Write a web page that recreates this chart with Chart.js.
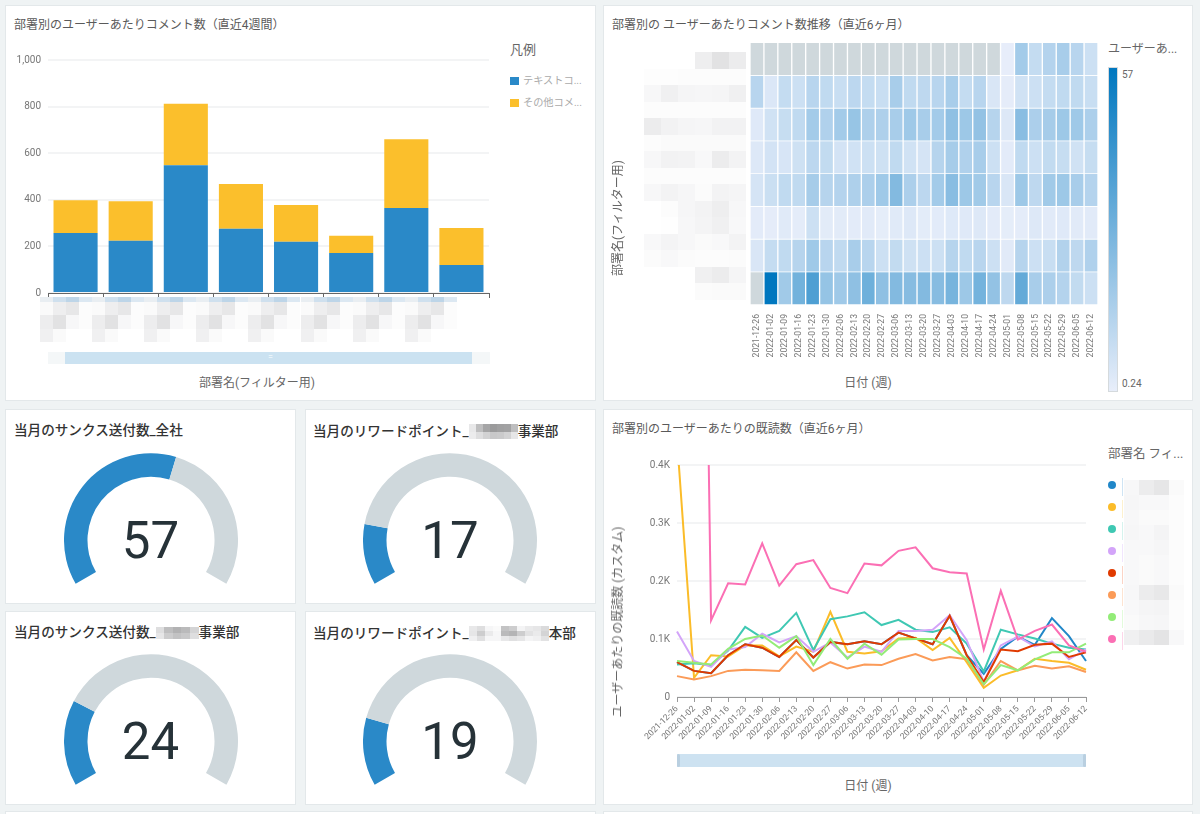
<!DOCTYPE html>
<html lang="ja">
<head>
<meta charset="utf-8">
<title>dashboard</title>
<script src="https://cdn.jsdelivr.net/npm/chart.js@4"></script>
<style>
  html, body { margin: 0; padding: 0; background: #eff3f4; }
  body { width: 1200px; height: 814px; position: relative; overflow: hidden;
         font-family: Roboto, "Noto Sans CJK JP", sans-serif; color: #666; }
  .card { position: absolute; background: #fff; border: 1px solid #e3e8ea; box-sizing: border-box; }
  canvas { position: absolute; }
  .txt { position: absolute; white-space: nowrap; line-height: 1; }
  .title { font-size: 12px; color: #5a5a5a; }
  .gtitle { font-size: 13.6px; font-weight: 500; color: #333; display: flex; align-items: center; }
  .mosaic { display: inline-grid; }
  .num { font-family: Roboto, sans-serif; font-size: 51px; color: #263238; transform: translate(-50%, -50%); }
  .axis { font-size: 12px; color: #666; }
  .rot { transform: translate(-50%, -50%) rotate(-90deg); }
  .mid { transform: translate(-50%, -50%); }
  .box { position: absolute; }
</style>
</head>
<body>
<script>
// bar chart (comment count per department, last 4 weeks)
const barLabels = ['部署A', '部署B', '部署C', '部署D', '部署E', '部署F', '部署G', '部署H'];
const textComments = [258, 224, 548, 276, 220, 172, 365, 120];
const otherComments = [140, 170, 264, 192, 158, 74, 295, 159];

// weekly dates shared by heatmap and line chart
const weeks = ['2021-12-26', '2022-01-02', '2022-01-09', '2022-01-16', '2022-01-23', '2022-01-30', '2022-02-06',
  '2022-02-13', '2022-02-20', '2022-02-27', '2022-03-06', '2022-03-13', '2022-03-20', '2022-03-27', '2022-04-03',
  '2022-04-10', '2022-04-17', '2022-04-24', '2022-05-01', '2022-05-08', '2022-05-15', '2022-05-22', '2022-05-29',
  '2022-06-05', '2022-06-12'];

// heatmap rows, top to bottom (null = no data, grey cell)
const heat1 = [null, null, null, null, null, null, null, null, null, null, null, null, null, null, null, null, null, null, 0.5, 17, 9, 13, 16, 12, 7];
const heat2 = [12, 3.5, 9, 7, 12, 10, 8, 11, 9, 8, 16, 10, 10.5, 12, 16, 9, 12, 4, 1, 6, 7, 9, 10, 10, 8];
const heat3 = [2.5, 6, 8.5, 10, 17, 14, 17, 20, 14.5, 14.5, 16, 18, 16, 17, 22, 18.5, 21, 12.5, 3, 23.5, 15, 16.5, 18.5, 18, 15];
const heat4 = [3, 5.5, 4.5, 6.5, 11, 9.5, 5.5, 6, 7, 6.5, 10, 6, 5, 12.5, 16.5, 14, 16, 7, 1.5, 10, 7, 9.5, 8.5, 6, 8.5];
const heat5 = [5, 7.5, 10, 10, 16.5, 12.5, 13, 14.5, 15, 18, 25, 15, 11, 17, 23.5, 18.5, 17.5, 12, 4, 18.5, 10.5, 17.5, 18.5, 16, 13];
const heat6 = [1.5, 1, 2.2, 1.3, 7, 1.8, 1.8, 1.5, 2, 0.9, 2.2, 3, 1.4, 1.6, 2.6, 2.5, 3, 1.5, 0.9, 1.2, 3, 2, 2.5, 2, 2];
const heat7 = [4, 9, 10, 12.5, 18, 12, 10, 16, 12, 7, 9.5, 6.5, 7, 7, 12.5, 10, 12, 7, 2, 12.5, 7, 8, 13.5, 10.5, 14];
const heat8 = [null, 57, 17.5, 29, 38, 20.5, 18, 22, 30, 22, 25, 24, 25, 24, 28, 18.5, 28.5, 21, 10.5, 32.5, 16, 15, 13, 9.5, 7];
const heatRows = [heat1, heat2, heat3, heat4, heat5, heat6, heat7, heat8];
const heatMin = 0.24;
const heatMax = 57;

// read counts per user, one list per department
const readBlue = [60, 45, 41, 72, 91, 85, 69, 98, 68, 95, 91, 96, 91, 111, 101, 91, 140, 72, 40, 83, 104, 90, 136, 105, 62];
const readGold = [445, 33, 72, 70, 89, 89, 70, 87, 78, 147, 78, 75, 79, 101, 102, 81, 102, 60, 16, 37, 46, 66, 62, 59, 47];
const readTeal = [56, 58, 55, 80, 121, 102, 114, 145, 81, 134, 139, 146, 124, 133, 116, 112, 120, 92, 44, 116, 108, 101, 92, 85, 82];
const readPurple = [113, 62, 52, 82, 86, 109, 94, 105, 78, 94, 68, 87, 78, 114, 114, 116, 141, 98, 26, 89, 104, 87, 96, 65, 82];
const readRed = [60, 45, 41, 72, 91, 85, 69, 98, 68, 95, 91, 96, 91, 111, 101, 91, 140, 72, 26, 82, 79, 90, 92, 69, 77];
const readOrange = [36, 30, 36, 45, 47, 46, 45, 77, 45, 60, 49, 56, 55, 66, 74, 63, 69, 65, 21, 62, 46, 54, 49, 53, 43];
const readGreen = [62, 59, 56, 83, 100, 106, 85, 105, 55, 100, 66, 92, 73, 99, 100, 100, 86, 66, 22, 55, 46, 65, 77, 77, 92];
const readPink = [2500, 2100, 132, 196, 194, 265, 192, 229, 236, 188, 179, 230, 227, 252, 258, 222, 215, 213, 82, 183, 99, 114, 125, 89, 78];

// gauges: value out of gaugeMax
const gaugeValues = [57, 17, 24, 19];
const gaugeMax = 100;

const BLUE = '#2a89c8';
const YELLOW = '#fbbf2c';
const GAUGE_GREY = '#cfd8dc';
const GRID = '#f3f4f5';
const BAR_AXIS = '#666';
const LINE_AXIS = '#999';
const TICK = '#777';

// redacted label tiles (grey levels)
const barTileBlue = ['#e9eef2', '#cfe0ee', '#bdd5e8', '#dce8f2'];
const barTile = [
  [250, 238, 231, 252],
  [237, 226, 247, 252],
  [240, 250, 255, 255]
];
const heatMosaic = [
  [255, 255, 255, 238, 226, 236],
  [253, 253, 252, 252, 252, 252],
  [247, 240, 245, 246, 245, 240],
  [252, 252, 252, 252, 252, 252],
  [236, 242, 245, 246, 242, 242],
  [252, 250, 250, 250, 250, 250],
  [247, 242, 243, 248, 236, 243],
  [252, 252, 252, 252, 252, 252],
  [247, 243, 246, 251, 243, 245],
  [255, 252, 246, 243, 238, 247],
  [255, 254, 247, 244, 240, 248],
  [248, 244, 247, 250, 248, 243],
  [251, 248, 251, 252, 252, 251],
  [255, 255, 255, 240, 236, 245],
  [255, 255, 255, 251, 250, 250]
];
const legendMosaic = [
  [247, 236, 230, 250],
  [246, 248, 248, 252],
  [247, 250, 250, 252],
  [246, 248, 244, 252],
  [248, 248, 246, 252],
  [248, 250, 248, 252],
  [248, 250, 248, 252],
  [247, 236, 232, 250],
  [248, 245, 244, 252],
  [250, 247, 246, 252],
  [240, 234, 228, 248]
];
const legendEdge = ['#cfe4f4', '#fdf1cf', '#d6f3ee', '#f1e6fd', '#fbd4c6', '#fde4d2', '#e3fbdc', '#fdd6e9'];
const titleMosaic1 = [[232, 190, 165, 155, 160, 162, 190], [236, 222, 210, 200, 202, 210, 230]];
const titleMosaic2 = [[222, 190, 178, 186, 212], [230, 204, 194, 200, 222]];
const titleMosaic3 = [
  [232, 222, 246, 250, 195, 205, 244, 234, 230, 218],
  [230, 205, 234, 246, 186, 180, 205, 226, 234, 212],
  [240, 224, 246, 246, 232, 224, 230, 244, 240, 226]
];

function card(x, y, w, h) {
  const el = document.createElement('div');
  el.className = 'card';
  el.style.cssText = `left:${x}px;top:${y}px;width:${w}px;height:${h}px`;
  document.body.appendChild(el);
}

function text(str, x, y, cls, extra) {
  const el = document.createElement('div');
  el.className = 'txt ' + cls;
  el.textContent = str;
  el.style.cssText = `left:${x}px;top:${y}px;${extra || ''}`;
  document.body.appendChild(el);
  return el;
}

function box(x, y, w, h, css) {
  const el = document.createElement('div');
  el.className = 'box';
  el.style.cssText = `left:${x}px;top:${y}px;width:${w}px;height:${h}px;${css}`;
  document.body.appendChild(el);
  return el;
}

function grey(v) {
  return `rgb(${v},${v},${v + (v < 250 ? 1 : 0)})`;
}

function mosaicEl(rows, cw, ch) {
  const m = document.createElement('span');
  m.className = 'mosaic';
  m.style.gridTemplateColumns = `repeat(${rows[0].length}, ${cw}px)`;
  m.style.gridAutoRows = ch + 'px';
  rows.forEach(r => r.forEach(v => {
    const c = document.createElement('span');
    c.style.background = grey(v);
    m.appendChild(c);
  }));
  return m;
}

function mosaicAt(rows, x, y, cw, ch) {
  const m = mosaicEl(rows, cw, ch);
  m.style.position = 'absolute';
  m.style.left = x + 'px';
  m.style.top = y + 'px';
  document.body.appendChild(m);
}

function canvasAt(x, y, w, h) {
  const c = document.createElement('canvas');
  c.width = w;
  c.height = h;
  c.style.left = x + 'px';
  c.style.top = y + 'px';
  document.body.appendChild(c);
  return c;
}

function heatColor(v) {
  if (v === null) return GAUGE_GREY;
  const t = (v - heatMin) / (heatMax - heatMin);
  return `rgb(${Math.round(232 * (1 - t))},${Math.round(238 - 119 * t)},${Math.round(250 - 59 * t)})`;
}

// ---- cards
card(5, 5, 591, 396);
card(603, 5, 590, 396);
card(5, 409, 291, 195);
card(305, 409, 291, 195);
card(5, 611, 291, 194);
card(305, 611, 291, 194);
card(603, 409, 590, 396);
card(5, 811, 591, 20);
card(603, 811, 590, 20);

// ---- stacked bars
text('部署別のユーザーあたりコメント数（直近4週間）', 14, 19, 'title');
new Chart(canvasAt(4, 40, 500, 266), {
  type: 'bar',
  data: {
    labels: barLabels,
    datasets: [
      { label: 'テキストコメント', data: textComments, backgroundColor: BLUE, barPercentage: 0.8, categoryPercentage: 1 },
      { label: 'その他コメント', data: otherComments, backgroundColor: YELLOW, barPercentage: 0.8, categoryPercentage: 1 }
    ]
  },
  options: {
    responsive: false,
    animation: false,
    layout: { padding: { top: 20, right: 15 } },
    plugins: { legend: { display: false }, tooltip: { enabled: false } },
    scales: {
      x: {
        stacked: true,
        afterFit: s => { s.height = 10; },
        border: { color: BAR_AXIS },
        grid: { drawOnChartArea: false, color: BAR_AXIS, tickLength: 5 },
        ticks: { display: false }
      },
      y: {
        stacked: true,
        min: 0,
        max: 1000,
        afterFit: s => { s.width = 44; },
        border: { display: false },
        grid: { color: GRID, lineWidth: 2, drawTicks: false },
        ticks: { stepSize: 200, padding: 7, color: TICK, font: { size: 10, family: 'Roboto' },
          callback: v => v.toLocaleString('en-US') }
      }
    }
  }
});
text('凡例', 510, 43, 'axis', 'font-size:13px');
box(510, 77, 9, 8, `background:${BLUE}`);
box(510, 99, 9, 8, `background:${YELLOW}`);
text('テキストコ...', 523, 76, 'axis', 'font-size:10.2px;color:#aaa');
text('その他コメ...', 523, 98, 'axis', 'font-size:10.2px;color:#aaa');
barLabels.forEach((name, i) => {
  const tx = 40 + i * 52.1;
  barTileBlue.forEach((col, k) => box(tx + k * 13, 297, 13, 5, `background:${col}`));
  mosaicAt(barTile, tx, 302, 13, 13.4);
});
box(48, 352, 442, 12, 'background:#f4f7f8');
box(65, 352, 407, 12, 'background:#cbe2f1');
text('=', 268, 353, 'axis', 'font-size:9px;color:#fff');
text('部署名(フィルター用)', 257, 383, 'axis mid');

// ---- heatmap (stacked unit bars, one dataset per row)
text('部署別の ユーザーあたりコメント数推移（直近6ヶ月）', 612, 19, 'title');
new Chart(canvasAt(745, 30, 360, 335), {
  type: 'bar',
  data: {
    labels: weeks,
    datasets: heatRows.map(row => ({
      data: row.map(() => 1),
      backgroundColor: row.map(heatColor),
      borderColor: 'rgba(255,255,255,0.35)',
      borderWidth: 1,
      barPercentage: 1,
      categoryPercentage: 1
    }))
  },
  options: {
    responsive: false,
    animation: false,
    layout: { padding: { top: 13, left: 5, right: 7 } },
    plugins: { legend: { display: false }, tooltip: { enabled: false } },
    scales: {
      x: {
        stacked: true,
        afterFit: s => { s.height = 60; },
        border: { display: false },
        grid: { display: false },
        ticks: { autoSkip: false, minRotation: 90, maxRotation: 90, padding: 1, color: TICK, font: { size: 8.6, family: 'Roboto' } }
      },
      y: { stacked: true, display: false, reverse: true, min: 0, max: heatRows.length }
    }
  }
});
mosaicAt(heatMosaic, 644, 52, 17, 16.5);
text('部署名(フィルター用)', 618, 218, 'axis rot');
text('日付 (週)', 868, 383, 'axis mid');
text('ユーザーあ...', 1108, 43, 'axis', 'font-size:12px');
box(1108, 67, 10, 325, `box-sizing:border-box;border:1px solid #d5dadd;background:linear-gradient(to bottom, ${heatColor(heatMax)}, ${heatColor(heatMin)})`);
text('57', 1122, 70, 'axis', 'font-size:10px');
text('0.24', 1122, 379, 'axis', 'font-size:10px');

// ---- gauges
const gaugeCenters = [[150.5, 540], [450, 540], [150.5, 741], [450, 741]];
gaugeValues.forEach((v, i) => {
  const [cx, cy] = gaugeCenters[i];
  new Chart(canvasAt(cx - 87, cy - 87.5, 174, 131), {
    type: 'doughnut',
    data: { datasets: [{ data: [v, gaugeMax - v], backgroundColor: [BLUE, GAUGE_GREY], borderWidth: 0 }] },
    options: {
      responsive: false,
      animation: false,
      rotation: -120,
      circumference: 240,
      cutout: '73%',
      plugins: { legend: { display: false }, tooltip: { enabled: false } }
    }
  });
  text(String(v), cx, cy, 'num');
});

text('当月のサンクス送付数_全社', 14, 424, 'gtitle');
const g2 = text('当月のリワードポイント_', 313, 424, 'gtitle');
g2.appendChild(mosaicEl(titleMosaic1, 7, 7.5));
g2.appendChild(document.createTextNode('事業部'));
const g3 = text('当月のサンクス送付数_', 14, 626, 'gtitle');
g3.appendChild(mosaicEl(titleMosaic2, 8.6, 6));
g3.appendChild(document.createTextNode('事業部'));
const g4 = text('当月のリワードポイント_', 313, 626, 'gtitle');
g4.appendChild(mosaicEl(titleMosaic3, 8, 5));
g4.appendChild(document.createTextNode('本部'));

// ---- line chart
const lineSeries = [
  ['#2187c8', readBlue], ['#fbbc29', readGold], ['#3fc8b3', readTeal], ['#d3a4f9', readPurple],
  ['#e03a00', readRed], ['#fb9b58', readOrange], ['#93ec78', readGreen], ['#fb6fb4', readPink]
];
text('部署別のユーザーあたりの既読数（直近6ヶ月）', 612, 423, 'title');
new Chart(canvasAt(604, 440, 496, 317), {
  type: 'line',
  data: {
    labels: weeks,
    datasets: lineSeries.map(([color, values], i) => ({
      data: values,
      borderColor: color,
      borderWidth: 2,
      pointRadius: 0,
      tension: 0,
      order: lineSeries.length - i
    }))
  },
  options: {
    responsive: false,
    animation: false,
    layout: { padding: { top: 25, right: 14 } },
    plugins: { legend: { display: false }, tooltip: { enabled: false } },
    scales: {
      x: {
        offset: false,
        afterFit: s => { s.height = 60; },
        border: { color: LINE_AXIS },
        grid: { drawOnChartArea: false, color: LINE_AXIS, tickLength: 5 },
        ticks: { autoSkip: false, minRotation: 45, maxRotation: 45, padding: 2, color: TICK, font: { size: 8.6, family: 'Roboto' } }
      },
      y: {
        min: 0,
        max: 400,
        afterFit: s => { s.width = 73; },
        border: { display: false },
        grid: { color: GRID, lineWidth: 2, drawTicks: false },
        ticks: { stepSize: 100, padding: 7, color: TICK, font: { size: 10, family: 'Roboto' },
          callback: v => (v === 0 ? '0' : (v / 1000).toFixed(1) + 'K') }
      }
    }
  }
});
text('ユーザーあたりの既読数 (カスタム)', 618, 622, 'axis rot');
text('日付 (週)', 868, 786, 'axis mid');
box(677, 754, 409, 12.5, 'background:#cde2f1');
box(677, 754, 3, 12.5, 'background:#b9cfe0;border-radius:2px');
box(1083, 754, 3, 12.5, 'background:#b9cfe0;border-radius:2px');
text('部署名 フィ...', 1108, 448, 'axis', 'font-size:12.5px');
mosaicAt(legendMosaic, 1124, 480, 15, 15);
lineSeries.forEach(([color], i) => {
  box(1107.6, 481 + i * 22, 8, 8, `background:${color};border-radius:50%`);
  box(1122, 478 + i * 22, 1, 18, `background:${legendEdge[i]}`);
});
</script>
</body>
</html>
